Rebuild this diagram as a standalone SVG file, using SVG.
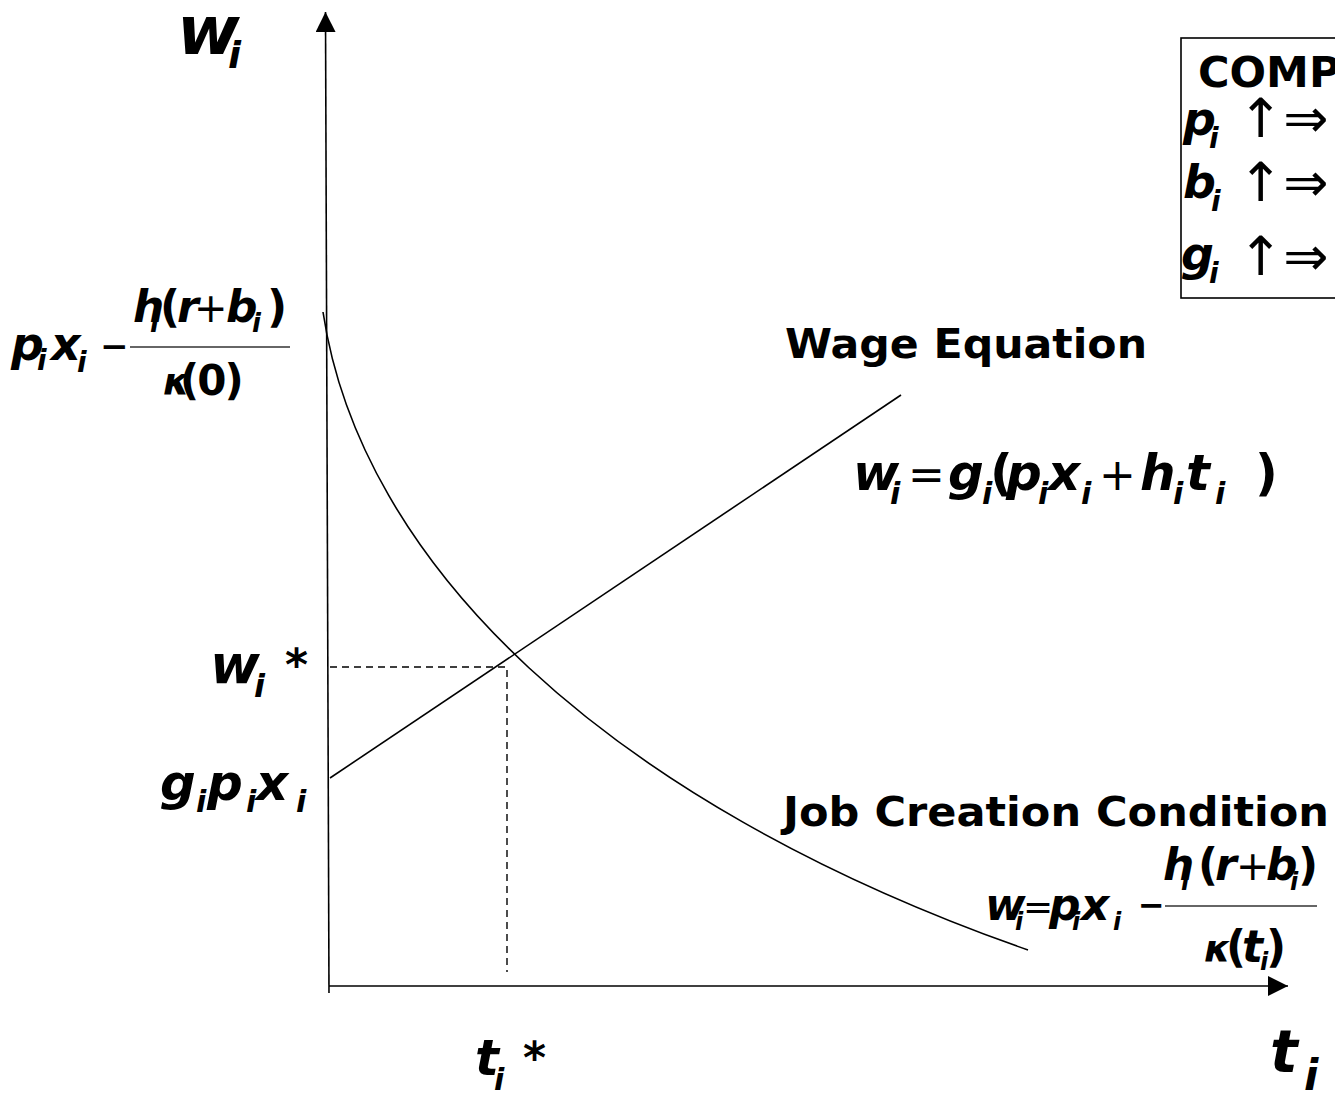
<svg xmlns="http://www.w3.org/2000/svg" width="1335" height="1095" viewBox="0 0 1335 1095">
<style>
.v{font-family:"DejaVu Sans",Verdana,sans-serif;font-weight:bold;font-style:italic;fill:#000}
.b{font-family:"DejaVu Sans",Verdana,sans-serif;font-weight:bold;font-style:normal;fill:#000}
.n{font-family:"DejaVu Sans",Verdana,sans-serif;font-weight:normal;font-style:normal;fill:#000}
.ln{stroke:#000;stroke-width:1.6;fill:none}
.ds{stroke:#000;stroke-width:1.4;fill:none;stroke-dasharray:7,5}
.fr{stroke:#333;stroke-width:1.3}
</style>
<defs>
<marker id="ah" viewBox="0 0 20 20" refX="20" refY="10" markerWidth="20" markerHeight="20" markerUnits="userSpaceOnUse" orient="auto">
<path d="M0,0 L20,10 L0,20 Z" fill="#000"/>
</marker>
</defs>
<rect width="1335" height="1095" fill="#fff"/>
<g id="connectors">
<line id="y-axis" class="ln" x1="329" y1="993" x2="325.5" y2="12" marker-end="url(#ah)"/>
<line id="x-axis" class="ln" x1="329" y1="986" x2="1288" y2="986" marker-end="url(#ah)"/>
<line id="wage-line" class="ln" x1="330" y1="778" x2="901" y2="395"/>
<path id="job-curve" class="ln" d="M323,312 C360,560 600,800 1028,950"/>
<polyline id="dash" class="ds" points="330,667 507,667 507,972"/>
</g>
<g id="axis-label-w">
<text class="v"><tspan x="177" y="54" font-size="68">w</tspan><tspan x="228" y="68" font-size="38">i</tspan></text>
</g>
<g id="axis-label-t">
<text class="v"><tspan x="1270" y="1072" font-size="58">t</tspan><tspan x="1304" y="1090" font-size="42">i</tspan></text>
</g>
<g id="label-tstar">
<text class="v"><tspan x="475" y="1075" font-size="50">t</tspan><tspan x="494" y="1090" font-size="30">i</tspan><tspan class="b" x="523" y="1073" font-size="44">*</tspan></text>
</g>
<g id="label-wstar">
<text class="v"><tspan x="210" y="683" font-size="54">w</tspan><tspan x="254" y="697" font-size="32">i</tspan><tspan class="b" x="285" y="680" font-size="44">*</tspan></text>
</g>
<g id="label-gpx">
<text class="v"><tspan x="160" y="800" font-size="50">g</tspan><tspan x="196" y="812" font-size="30">i</tspan><tspan x="207" y="800" font-size="50">p</tspan><tspan x="246" y="812" font-size="30">i</tspan><tspan x="256" y="800" font-size="50">x</tspan><tspan x="296" y="812" font-size="30">i</tspan></text>
</g>
<g id="label-intercept">
<text class="v"><tspan x="11" y="360" font-size="46">p</tspan><tspan x="37" y="370" font-size="28">i</tspan><tspan x="51" y="360" font-size="46">x</tspan><tspan x="77" y="372" font-size="28">i</tspan><tspan class="b" x="100" y="358" font-size="34">−</tspan></text>
<text class="v"><tspan x="133" y="322" font-size="44">h</tspan><tspan x="150" y="332" font-size="26">i</tspan><tspan class="b" x="160" y="322" font-size="44">(</tspan><tspan x="177" y="322" font-size="44">r</tspan><tspan class="n" x="194" y="322" font-size="40">+</tspan><tspan x="226" y="322" font-size="44">b</tspan><tspan x="252" y="332" font-size="26">i</tspan><tspan class="b" x="267" y="322" font-size="44">)</tspan></text>
<line class="fr" x1="130" y1="347" x2="290" y2="347"/>
<text class="v"><tspan x="163" y="395" font-size="38">κ</tspan><tspan class="b" x="180" y="395" font-size="42" letter-spacing="-2">(0)</tspan></text>
</g>
<g id="label-wage-eq">
<text class="b" x="785" y="358" font-size="40" textLength="362" lengthAdjust="spacingAndGlyphs">Wage Equation</text>
</g>
<g id="formula-wage">
<text class="v"><tspan x="853" y="490" font-size="50">w</tspan><tspan x="890" y="504" font-size="30">i</tspan><tspan class="n" x="908" y="490" font-size="44">=</tspan><tspan x="948" y="490" font-size="50">g</tspan><tspan x="982" y="504" font-size="30">i</tspan><tspan class="b" x="990" y="490" font-size="50">(</tspan><tspan x="1006" y="490" font-size="50">p</tspan><tspan x="1038" y="504" font-size="30">i</tspan><tspan x="1048" y="490" font-size="50">x</tspan><tspan x="1081" y="504" font-size="30">i</tspan><tspan class="n" x="1099" y="490" font-size="44">+</tspan><tspan x="1140" y="490" font-size="50">h</tspan><tspan x="1173" y="504" font-size="30">i</tspan><tspan x="1186" y="490" font-size="50">t</tspan><tspan x="1215" y="504" font-size="30">i</tspan><tspan class="b" x="1255" y="490" font-size="50">)</tspan></text>
</g>
<g id="label-job-cond">
<text class="b" x="783" y="826" font-size="40" textLength="546" lengthAdjust="spacingAndGlyphs">Job Creation Condition</text>
</g>
<g id="formula-job">
<text class="v"><tspan x="985" y="920" font-size="44">w</tspan><tspan x="1015" y="930" font-size="24">i</tspan><tspan class="n" x="1023" y="919" font-size="36">=</tspan><tspan x="1049" y="920" font-size="44">p</tspan><tspan x="1072" y="930" font-size="24">i</tspan><tspan x="1081" y="920" font-size="44">x</tspan><tspan x="1113" y="930" font-size="24">i</tspan><tspan class="b" x="1138" y="916" font-size="32">−</tspan></text>
<text class="v"><tspan x="1163" y="880" font-size="44">h</tspan><tspan x="1181" y="890" font-size="24">i</tspan><tspan class="b" x="1198" y="880" font-size="44">(</tspan><tspan x="1215" y="880" font-size="44">r</tspan><tspan class="n" x="1236" y="880" font-size="40">+</tspan><tspan x="1266" y="880" font-size="44">b</tspan><tspan x="1290" y="890" font-size="24">i</tspan><tspan class="b" x="1298" y="880" font-size="44">)</tspan></text>
<line class="fr" x1="1165" y1="906" x2="1317" y2="906"/>
<text class="v"><tspan x="1204" y="962" font-size="38">κ</tspan><tspan class="b" x="1226" y="962" font-size="44">(</tspan><tspan x="1242" y="962" font-size="44">t</tspan><tspan x="1260" y="970" font-size="24">i</tspan><tspan class="b" x="1266" y="962" font-size="44">)</tspan></text>
</g>
<g id="comp-box">
<rect x="1181" y="38" width="170" height="260" fill="none" stroke="#000" stroke-width="1.6"/>
<text class="b" x="1198" y="87" font-size="43">COMP</text>
<text class="v"><tspan x="1183" y="135" font-size="46">p</tspan><tspan x="1209" y="148" font-size="28">i</tspan><tspan class="n" x="1238" y="137" font-size="54">↑⇒</tspan></text>
<text class="v"><tspan x="1183" y="198" font-size="46">b</tspan><tspan x="1211" y="211" font-size="28">i</tspan><tspan class="n" x="1238" y="201" font-size="54">↑⇒</tspan></text>
<text class="v"><tspan x="1181" y="270" font-size="46">g</tspan><tspan x="1209" y="283" font-size="28">i</tspan><tspan class="n" x="1238" y="275" font-size="54">↑⇒</tspan></text>
</g>
</svg>
